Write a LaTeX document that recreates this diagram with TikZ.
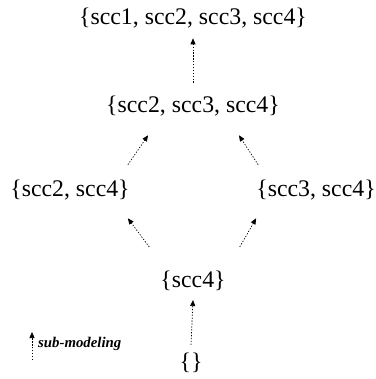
\documentclass[tikz,border=0pt]{standalone}
\usepackage{fontspec}
\setmainfont{Liberation Serif}
\usetikzlibrary{arrows.meta}

\tikzset{
	set/.style={inner sep=0pt, font=\fontsize{23.8}{28}\selectfont},
	sub/.style={dash pattern=on 1.3pt off 1.6pt, line width=0.7pt, -{Triangle[length=6pt,width=5pt]}}
}

\begin{document}
\begin{tikzpicture}[x=1pt, y=-1pt]
	\useasboundingbox (0,0) rectangle (375,379);

	\node[set] (all)   at (193,18)  {\{scc1, scc2, scc3, scc4\}};
	\node[set] (s234)  at (193,106) {\{scc2, scc3, scc4\}};
	\node[set] (s24)   at (70,190)  {\{scc2, scc4\}};
	\node[set] (s34)   at (316,190) {\{scc3, scc4\}};
	\node[set] (s4)    at (193,281) {\{scc4\}};
	\node[set] (empty) at (191,363) {\{\}};

\draw[sub] ([yshift=13pt]s234.north) -- ([yshift=-10pt]all.south);
	\draw[sub] ([shift={(-2pt,15pt)}]s24.north east) -- ([shift={(42pt,-19pt)}]s234.south west);
	\draw[sub] ([shift={(2pt,15pt)}]s34.north west) -- ([shift={(-41pt,-19pt)}]s234.south east);
	\draw[sub] ([shift={(-11pt,24pt)}]s4.north west) -- ([shift={(-2pt,-18pt)}]s24.south east);
	\draw[sub] ([shift={(14pt,24pt)}]s4.north east) -- ([shift={(0pt,-18pt)}]s34.south west);
	\draw[sub] ([yshift=8pt]empty.north) -- ([yshift=-9pt]s4.south);

	% legend
	\coordinate (legtail) at (32,360);
	\coordinate (legtip) at (32,332);
	\draw[sub] (legtail) -- (legtip);
	\node[inner sep=0pt, anchor=west, font=\fontsize{14.8}{18}\selectfont\bfseries\itshape] (legend) at (38,344) {sub-modeling};
\end{tikzpicture}
\end{document}
